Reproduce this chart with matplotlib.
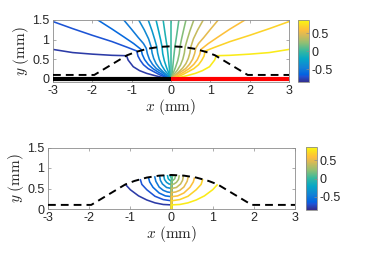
import matplotlib
matplotlib.use('Agg')
import matplotlib.pyplot as plt
from matplotlib.colors import LinearSegmentedColormap, Normalize
from matplotlib.cm import ScalarMappable

plt.rcParams['font.family'] = ['Liberation Sans', 'DejaVu Sans']
plt.rcParams['mathtext.fontset'] = 'cm'
plt.rcParams['axes.unicode_minus'] = False

# ---------------- data ----------------
x_ticks = [-3, -2, -1, 0, 1, 2, 3]
x_ticklabels = ['-3', '-2', '-1', '0', '1', '2', '3']
y_ticks = [0, 0.5, 1, 1.5]
y_ticklabels = ['0', '0.5', '1', '1.5']
cb_ticks = [-0.5, 0, 0.5]
cb_ticklabels = ['-0.5', '0', '0.5']
c_range = [-0.87, 0.87]

# interface (dashed) profile
iface_x = [-3.0, -1.95, -1.12, -0.9, -0.6, -0.3, 0.0, 0.3, 0.6, 0.9, 1.12, 1.95, 3.0]
iface_y = [0.1, 0.1, 0.6, 0.684, 0.767, 0.814, 0.83, 0.814, 0.767, 0.684, 0.6, 0.1, 0.1]

# substrate segments (top panel)
solid_x = [-3.0, 0.0]
solid_y = [0.0, 0.0]
hot_x = [0.0, 3.0]
hot_y = [0.0, 0.0]

# top panel streamlines
top_vals = [-0.8, -0.7, -0.6, -0.5, -0.4, -0.3, -0.2, -0.1, 0.0,
            0.1, 0.2, 0.3, 0.4, 0.5, 0.6, 0.7, 0.8]
top_x = [
    [-3.0, -2.5, -2.0, -1.5, -1.13, -1.09, -0.96, -0.8, -0.62, -0.4, -0.2, 0.0],
    [-3.0, -2.5, -2.0, -1.5, -1.1, -0.87, -0.84, -0.78, -0.70, -0.58, -0.45, -0.3, -0.15, 0.0],
    [-1.86, -1.5, -1.2, -0.95, -0.76, -0.73, -0.67, -0.58, -0.46, -0.32, -0.15, 0.0],
    [-1.2, -1.0, -0.83, -0.7, -0.63, -0.6, -0.55, -0.47, -0.37, -0.25, -0.12, 0.0],
    [-0.82, -0.68, -0.57, -0.5, -0.48, -0.44, -0.38, -0.3, -0.2, -0.1, 0.0],
    [-0.58, -0.48, -0.41, -0.36, -0.34, -0.3, -0.24, -0.16, -0.08, 0.0],
    [-0.38, -0.31, -0.26, -0.23, -0.21, -0.17, -0.11, -0.05, 0.0],
    [-0.2, -0.15, -0.12, -0.1, -0.07, -0.03, 0.0],
    [0.0, 0.0],
    [0.2, 0.15, 0.12, 0.1, 0.07, 0.03, 0.0],
    [0.38, 0.31, 0.26, 0.23, 0.21, 0.17, 0.11, 0.05, 0.0],
    [0.58, 0.48, 0.41, 0.36, 0.34, 0.3, 0.24, 0.16, 0.08, 0.0],
    [0.82, 0.68, 0.57, 0.5, 0.48, 0.44, 0.38, 0.3, 0.2, 0.1, 0.0],
    [1.2, 1.0, 0.83, 0.7, 0.63, 0.6, 0.55, 0.47, 0.37, 0.25, 0.12, 0.0],
    [1.88, 1.5, 1.2, 0.95, 0.76, 0.73, 0.67, 0.58, 0.46, 0.32, 0.15, 0.0],
    [3.0, 2.5, 2.0, 1.5, 1.1, 0.87, 0.84, 0.78, 0.70, 0.58, 0.45, 0.3, 0.15, 0.0],
    [3.0, 2.5, 2.0, 1.5, 1.15, 1.11, 0.98, 0.8, 0.62, 0.4, 0.2, 0.0],
]
top_y = [
    [0.75, 0.67, 0.63, 0.60, 0.59, 0.48, 0.31, 0.21, 0.14, 0.08, 0.03, 0.0],
    [1.46, 1.28, 1.11, 0.95, 0.80, 0.71, 0.58, 0.47, 0.36, 0.26, 0.19, 0.11, 0.045, 0.0],
    [1.5, 1.27, 1.07, 0.9, 0.75, 0.62, 0.49, 0.37, 0.26, 0.17, 0.07, 0.0],
    [1.5, 1.26, 1.05, 0.9, 0.78, 0.64, 0.5, 0.37, 0.26, 0.18, 0.085, 0.0],
    [1.5, 1.25, 1.02, 0.8, 0.66, 0.52, 0.39, 0.28, 0.18, 0.09, 0.0],
    [1.5, 1.22, 0.99, 0.815, 0.66, 0.5, 0.35, 0.22, 0.12, 0.0],
    [1.5, 1.2, 0.98, 0.825, 0.64, 0.46, 0.28, 0.13, 0.0],
    [1.5, 1.15, 0.95, 0.83, 0.56, 0.15, 0.0],
    [0.0, 1.5],
    [1.5, 1.15, 0.95, 0.83, 0.56, 0.15, 0.0],
    [1.5, 1.2, 0.98, 0.825, 0.64, 0.46, 0.28, 0.13, 0.0],
    [1.5, 1.22, 0.99, 0.815, 0.66, 0.5, 0.35, 0.22, 0.12, 0.0],
    [1.5, 1.25, 1.02, 0.8, 0.66, 0.52, 0.39, 0.28, 0.18, 0.09, 0.0],
    [1.5, 1.26, 1.05, 0.9, 0.78, 0.64, 0.5, 0.37, 0.26, 0.18, 0.085, 0.0],
    [1.5, 1.27, 1.07, 0.9, 0.75, 0.62, 0.49, 0.37, 0.26, 0.17, 0.07, 0.0],
    [1.46, 1.28, 1.11, 0.95, 0.80, 0.71, 0.58, 0.47, 0.36, 0.26, 0.19, 0.11, 0.045, 0.0],
    [0.75, 0.67, 0.63, 0.60, 0.59, 0.48, 0.31, 0.21, 0.14, 0.08, 0.03, 0.0],
]

# bottom panel streamlines (left arcs, centre, right arcs)
bot_vals = [-0.8, -0.7, -0.6, -0.5, -0.4, -0.3, -0.2, -0.1, 0.0,
            0.1, 0.2, 0.3, 0.4, 0.5, 0.6, 0.7, 0.8]
bot_x = [
    [-1.12, -1.0, -0.8, -0.6, -0.4, -0.2, 0.0, 0.0],
    [-0.76, -0.72, -0.6, -0.4, -0.2, 0.0, 0.0],
    [-0.56, -0.53, -0.45, -0.3, -0.15, 0.0, 0.0],
    [-0.41, -0.38, -0.3, -0.2, -0.1, 0.0, 0.0],
    [-0.29, -0.27, -0.22, -0.12, 0.0, 0.0],
    [-0.19, -0.17, -0.12, -0.06, 0.0, 0.0],
    [-0.1, -0.08, -0.04, 0.0, 0.0],
    [-0.04, -0.02, 0.0, 0.0],
    [0.0, 0.0],
    [0.04, 0.02, 0.0, 0.0],
    [0.1, 0.08, 0.04, 0.0, 0.0],
    [0.19, 0.17, 0.12, 0.06, 0.0, 0.0],
    [0.29, 0.27, 0.22, 0.12, 0.0, 0.0],
    [0.41, 0.38, 0.3, 0.2, 0.1, 0.0, 0.0],
    [0.56, 0.53, 0.45, 0.3, 0.15, 0.0, 0.0],
    [0.76, 0.72, 0.6, 0.4, 0.2, 0.0, 0.0],
    [1.12, 1.0, 0.8, 0.6, 0.4, 0.2, 0.0, 0.0],
]
bot_y = [
    [0.6, 0.47, 0.32, 0.22, 0.15, 0.11, 0.1, 0.0],
    [0.73, 0.6, 0.47, 0.31, 0.23, 0.2, 0.0],
    [0.77, 0.66, 0.53, 0.39, 0.32, 0.3, 0.0],
    [0.8, 0.675, 0.535, 0.455, 0.415, 0.4, 0.0],
    [0.815, 0.70, 0.61, 0.525, 0.5, 0.0],
    [0.825, 0.72, 0.65, 0.61, 0.6, 0.0],
    [0.83, 0.74, 0.70, 0.68, 0.0],
    [0.83, 0.78, 0.76, 0.0],
    [0.0, 0.83],
    [0.83, 0.78, 0.76, 0.0],
    [0.83, 0.74, 0.70, 0.68, 0.0],
    [0.825, 0.72, 0.65, 0.61, 0.6, 0.0],
    [0.815, 0.70, 0.61, 0.525, 0.5, 0.0],
    [0.8, 0.675, 0.535, 0.455, 0.415, 0.4, 0.0],
    [0.77, 0.66, 0.53, 0.39, 0.32, 0.3, 0.0],
    [0.73, 0.6, 0.47, 0.31, 0.23, 0.2, 0.0],
    [0.6, 0.47, 0.32, 0.22, 0.15, 0.11, 0.1, 0.0],
]

# ---------------- style ----------------
parula_anchors = [
    (0.2081, 0.1663, 0.5292), (0.1253, 0.3242, 0.8303), (0.0117, 0.3875, 0.8820),
    (0.0779, 0.5040, 0.8384), (0.0228, 0.6535, 0.7768), (0.2178, 0.7250, 0.6193),
    (0.5709, 0.7485, 0.4494), (0.8507, 0.7299, 0.3360), (0.9938, 0.7455, 0.2403),
    (0.9880, 0.8066, 0.1794), (0.9763, 0.9831, 0.0538)]
anchor_pos = [0.0, 6/63, 8/63, 15/63, 24/63, 32/63, 40/63, 48/63, 53/63, 56/63, 1.0]
parula = LinearSegmentedColormap.from_list('parula', list(zip(anchor_pos, parula_anchors)))
norm = Normalize(vmin=c_range[0], vmax=c_range[1])

W, H = 366, 268
fig = plt.figure(figsize=(W / 100, H / 100), dpi=100)

def box(l, t, r, b):
    return [l / W, 1 - b / H, (r - l) / W, (b - t) / H]

tick_color = '0.15'
spine_color = '0.55'
fs = 9
lab_fs = 11
lw = 1.15

def style_axes(ax, ylim):
    ax.set_xlim(-3, 3)
    ax.set_ylim(*ylim)
    ax.set_xticks(x_ticks)
    ax.set_xticklabels(x_ticklabels)
    ax.set_yticks(y_ticks)
    ax.set_yticklabels(y_ticklabels)
    ax.tick_params(direction='in', length=2.5, width=0.5, top=True, right=True,
                   labelsize=fs, colors=spine_color, labelcolor=tick_color, pad=2.5)
    for s in ax.spines.values():
        s.set_color(spine_color)
        s.set_linewidth(0.6)
    ax.set_xlabel(r'$x\ \mathrm{(mm)}$', fontsize=lab_fs, color=tick_color, labelpad=0)
    ax.set_ylabel(r'$y\ \mathrm{(mm)}$', fontsize=lab_fs, color=tick_color, labelpad=1)

def style_cb(cax):
    cb = fig.colorbar(ScalarMappable(norm=norm, cmap=parula), cax=cax, ticks=cb_ticks)
    cb.ax.set_yticklabels(cb_ticklabels)
    cb.ax.tick_params(direction='in', length=2, width=0.5, labelsize=fs,
                      colors=spine_color, labelcolor=tick_color, pad=2)
    cb.outline.set_edgecolor(spine_color)
    cb.outline.set_linewidth(0.6)

# top panel
ax1 = fig.add_axes(box(53, 20, 289, 82))
for xs, ys, v in zip(top_x, top_y, top_vals):
    ax1.plot(xs, ys, color=parula(norm(v)), lw=lw, solid_capstyle='round', zorder=2)
ax1.plot(solid_x, solid_y, color='black', lw=3.0, solid_capstyle='butt', zorder=3)
ax1.plot(hot_x, hot_y, color='red', lw=3.0, solid_capstyle='butt', zorder=3)
ax1.plot(iface_x, iface_y, color='black', lw=1.4, dashes=(4, 2.6), zorder=4)
style_axes(ax1, (-0.08, 1.5))
cax1 = fig.add_axes(box(298, 20, 309, 82.5))
style_cb(cax1)

# bottom panel
ax2 = fig.add_axes(box(48, 147.5, 295, 209))
for xs, ys, v in zip(bot_x, bot_y, bot_vals):
    ax2.plot(xs, ys, color=parula(norm(v)), lw=lw, solid_capstyle='butt', zorder=2)
ax2.plot(iface_x, iface_y, color='black', lw=1.4, dashes=(4, 2.6), zorder=4)
style_axes(ax2, (0, 1.5))
cax2 = fig.add_axes(box(306, 147, 317, 210))
style_cb(cax2)

fig.savefig('out.png', dpi=100)
